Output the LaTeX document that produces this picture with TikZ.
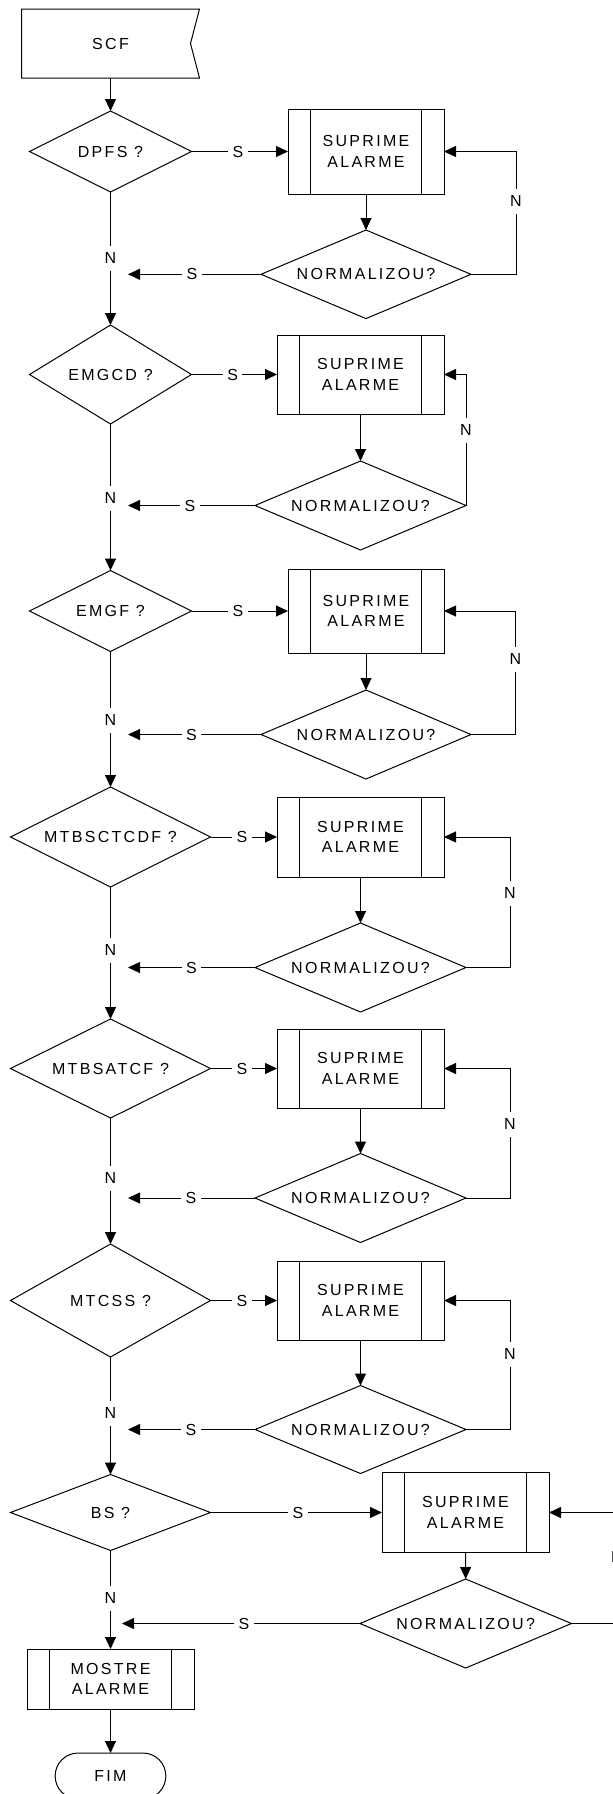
\documentclass[tikz,border=0pt]{standalone}
\usepackage{fontspec}
\setmainfont{Liberation Sans}[LetterSpace=14.4]
\usetikzlibrary{shapes.geometric,shapes.misc,arrows.meta}
\newcommand\chartfont{\fontsize{16}{20.7}\selectfont}

\begin{document}
\begin{tikzpicture}[x=1pt, y=-1pt, line width=1pt,
  every node/.style={font=\chartfont, outer sep=0pt},
  dec/.style={diamond, draw, inner sep=0pt, aspect=2},
  check/.style={dec, aspect=2.37, minimum width=211, minimum height=89},
  proc/.style={rectangle, draw, align=center, inner sep=0pt,
    path picture={
      \draw ([xshift=22.7pt]path picture bounding box.north west) -- ([xshift=22.7pt]path picture bounding box.south west);
      \draw ([xshift=-22.7pt]path picture bounding box.north east) -- ([xshift=-22.7pt]path picture bounding box.south east);
    }},
  term/.style={rounded rectangle, draw, inner sep=0pt},
  lbl/.style={fill=white, inner xsep=4.5pt, inner ysep=7pt},
  arr/.style={-{Triangle[length=12pt,width=11pt]}}]

\fill[white] (0,0) rectangle (613,1794);
\useasboundingbox (0,0) rectangle (613,1794);
\clip (0,0) rectangle (613,1794);

% start: card with a notched right side
\node[minimum width=178, minimum height=69] (scf) at (110.5,43.5) {SCF};
\draw (scf.north west) -- (scf.north east) -- ([xshift=-9pt]scf.east)
      -- (scf.south east) -- (scf.south west) -- cycle;

% ---- block 1
\node[dec, minimum width=162, minimum height=81] (d1) at (110.5,151.5) {DPFS ?};
\node[proc, minimum width=156, minimum height=85] (b1) at (366,151.5) {SUPRIME\\ALARME};
\node[check, minimum width=210, minimum height=88.6] (n1) at (366,274.3) {NORMALIZOU?};
\coordinate (r1) at (516,151.5);
\coordinate (t1) at (128,274.3);

% ---- block 2
\node[dec, aspect=1.64, minimum width=162, minimum height=99] (d2) at (110.5,374.5) {EMGCD ?};
\node[proc, minimum width=167, minimum height=79] (b2) at (360.5,374.5) {SUPRIME\\ALARME};
\node[check] (n2) at (360.5,505.5) {NORMALIZOU?};
\coordinate (r2) at (466,374.5);
\coordinate (t2) at (128,505.5);

% ---- block 3
\node[dec, minimum width=162, minimum height=81] (d3) at (110.5,611) {EMGF ?};
\node[proc, minimum width=156, minimum height=84] (b3) at (366,611) {SUPRIME\\ALARME};
\node[check, minimum width=210] (n3) at (366,734.5) {NORMALIZOU?};
\coordinate (r3) at (515.5,611);
\coordinate (t3) at (128,734.5);

% ---- block 4
\node[dec, minimum width=200, minimum height=100] (d4) at (110.5,837) {MTBSCTCDF ?};
\node[proc, minimum width=167, minimum height=80] (b4) at (360.5,837) {SUPRIME\\ALARME};
\node[check] (n4) at (360.5,967.5) {NORMALIZOU?};
\coordinate (r4) at (510,837);
\coordinate (t4) at (128,967.5);

% ---- block 5
\node[dec, minimum width=200, minimum height=99] (d5) at (110.5,1068.5) {MTBSATCF ?};
\node[proc, minimum width=167, minimum height=79] (b5) at (360.5,1068.5) {SUPRIME\\ALARME};
\node[check] (n5) at (360.5,1198) {NORMALIZOU?};
\coordinate (r5) at (510,1068.5);
\coordinate (t5) at (128,1198);

% ---- block 6
\node[dec, aspect=1.77, minimum width=200, minimum height=113] (d6) at (110.5,1300.5) {MTCSS ?};
\node[proc, minimum width=167, minimum height=79] (b6) at (360.5,1300.5) {SUPRIME\\ALARME};
\node[check, minimum height=88] (n6) at (360.5,1429.5) {NORMALIZOU?};
\coordinate (r6) at (510,1300.5);
\coordinate (t6) at (128,1429.5);

% ---- block 7
\node[dec, aspect=2.63, minimum width=200, minimum height=76] (d7) at (110.5,1512.5) {BS ?};
\node[proc, minimum width=167, minimum height=80] (b7) at (465.5,1512.5) {SUPRIME\\ALARME};
\node[check, minimum width=211.5] (n7) at (465.7,1623.5) {NORMALIZOU?};
\coordinate (r7) at (617,1512.5);
\coordinate (t7) at (122,1623.5);

% end of the chart
\node[proc, minimum width=167, minimum height=60] (show) at (110.5,1679) {MOSTRE\\ALARME};
\node[term, minimum width=110.7, minimum height=46] (fim) at (110.5,1776) {FIM};

% connectors
\draw[arr] (scf.south) -- (d1.north);
\foreach \i/\j in {1/2,2/3,3/4,4/5,5/6,6/7} {
  \draw[arr] (d\i.south) -- (d\j.north);
}
\draw[arr] (d7.south) -- (show.north);
\draw[arr] (show.south) -- (fim.north);
\foreach \i in {1,...,7} {
  \draw[arr] (d\i.east) -- (b\i.west);
  \draw[arr] (b\i.south) -- (n\i.north);
  \draw[arr] (n\i.east) -| (r\i) -- (b\i.east);
  \draw[arr] (n\i.west) -- (t\i);
}

% branch labels
\node[lbl] (s1a) at (238,151.5) {S};
\node[lbl] (s1b) at (192,274.3) {S};
\node[lbl] (l1a) at (516,201) {N};
\node[lbl] (l1b) at (110.5,258) {N};

\node[lbl] (s2a) at (232.6,374.5) {S};
\node[lbl] (s2b) at (190,505.5) {S};
\node[lbl] (l2a) at (466,430) {N};
\node[lbl] (l2b) at (110.5,498) {N};

\node[lbl] (s3a) at (238,611) {S};
\node[lbl] (s3b) at (191.5,734.5) {S};
\node[lbl] (l3a) at (515.5,659) {N};
\node[lbl] (l3b) at (110.5,720) {N};

\node[lbl] (s4a) at (242,837) {S};
\node[lbl] (s4b) at (191.5,967.5) {S};
\node[lbl] (l4a) at (510,893) {N};
\node[lbl] (l4b) at (110.5,950) {N};

\node[lbl] (s5a) at (242,1068.5) {S};
\node[lbl] (s5b) at (191,1198) {S};
\node[lbl] (l5a) at (510,1124) {N};
\node[lbl] (l5b) at (110.5,1178) {N};

\node[lbl] (s6a) at (242,1300.5) {S};
\node[lbl] (s6b) at (191,1429.5) {S};
\node[lbl] (l6a) at (510,1354) {N};
\node[lbl] (l6b) at (110.5,1413) {N};

\node[lbl] (s7a) at (298,1512.5) {S};
\node[lbl] (s7b) at (244,1623.5) {S};
\node[lbl] (l7a) at (617,1557) {N};
\node[lbl] (l7b) at (110.5,1598) {N};
\end{tikzpicture}
\end{document}
